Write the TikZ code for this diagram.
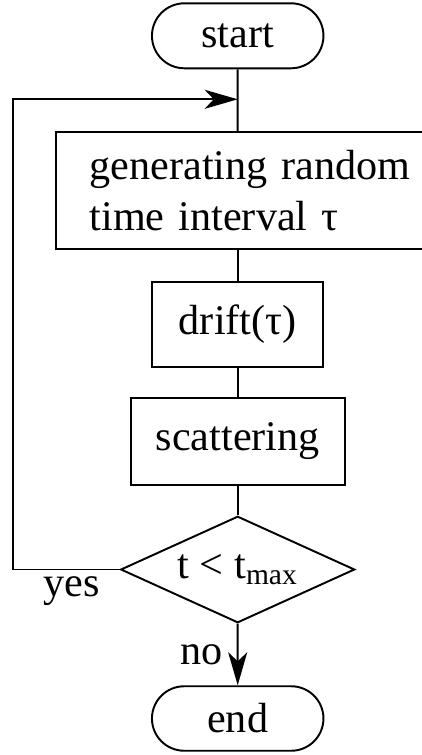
\documentclass[tikz,border=0pt]{standalone}
\usepackage{fontspec}
\setmainfont{Liberation Serif}
\usetikzlibrary{shapes.misc,shapes.geometric,arrows.meta}
\begin{document}
\begin{tikzpicture}[line width=1.1pt, every node/.style={font=\fontsize{24}{29.3}\selectfont},
  term/.style={draw, rounded rectangle, minimum width=3.43cm, minimum height=1.3cm, inner sep=0pt},
  proc/.style={draw, rectangle, minimum height=1.72cm, inner sep=0pt},
  arr/.style={-{Stealth[length=0.66cm, width=0.38cm, inset=0.18cm]}}]
\useasboundingbox (0,0) rectangle (8.44,-15.1);
\node (start) [term] at (4.754,-0.716) {start};
\node (gen) [proc, below of=start, node distance=3.094cm, xshift=0.6cm, text width=7.12cm, inner xsep=0.68cm, align=left, minimum height=2.35cm] {generating random\\time interval τ};
\node (drift) [proc, below of=gen, node distance=2.68cm, xshift=-0.6cm, minimum width=3.42cm, minimum height=1.7cm] {drift(τ)};
\node (scat) [proc, below of=drift, node distance=2.34cm, minimum width=4.28cm, minimum height=1.74cm] {scattering};
\node (dec) [draw, diamond, aspect=2.2, below of=scat, node distance=2.56cm, minimum width=4.68cm, minimum height=2.13cm, inner sep=0pt] {t < t\textsubscript{max}};
\node (end) [term, below of=dec, node distance=2.98cm, minimum height=1.29cm] {end};
\coordinate (merge) at (4.754,-1.986);
\coordinate (corner) at (0.266,-1.986);

\draw (start) -- (start |- gen.north);
\draw (start |- gen.south) -- (drift);
\draw (drift) -- (scat);
\draw (scat) -- (dec);
\draw[arr] (dec) -- node[left=0.16cm] {no} (end);
\draw[arr] (dec.west) node[below left, xshift=-0.26cm] {yes} -| (corner) -- (merge);
\end{tikzpicture}
\end{document}
